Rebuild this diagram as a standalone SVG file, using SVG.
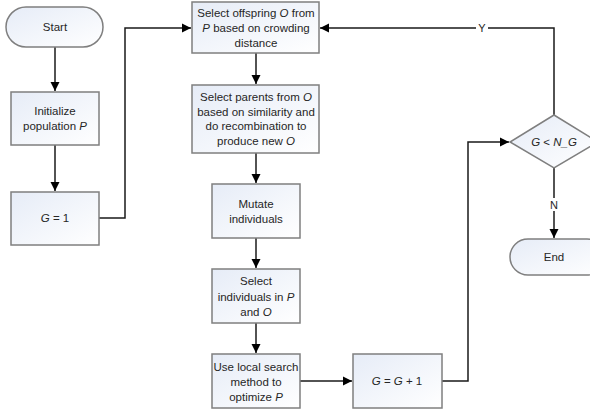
<svg xmlns="http://www.w3.org/2000/svg" width="590" height="411" viewBox="0 0 590 411">
<defs>
<linearGradient id="g" x1="0" y1="0" x2="1" y2="1">
<stop offset="0" stop-color="#e6ecf7"/>
<stop offset="1" stop-color="#ffffff"/>
</linearGradient>
<marker id="ah" markerWidth="10" markerHeight="10" refX="9" refY="5" orient="auto" markerUnits="userSpaceOnUse">
<path d="M0,0.5 L9,5 L0,9.5 Z" fill="#000"/>
</marker>
</defs>
<style>
.n{fill:url(#g);stroke:#7f7f7f;stroke-width:1.5}
.t{font-family:"Liberation Sans",Arial,sans-serif;font-size:11.5px;fill:#262626;text-anchor:middle}
.i{font-style:italic}
.c{fill:none;stroke:#1a1a1a;stroke-width:1.5}
.a{marker-end:url(#ah)}
.l{font-family:"Liberation Sans",Arial,sans-serif;font-size:11px;fill:#262626;text-anchor:middle}
</style>
<rect width="590" height="411" fill="#fff"/>
<g id="connectors">
<path class="c a" d="M55,47 V91"/>
<path class="c a" d="M55,145 V191"/>
<path class="c a" d="M99,218 H125 V28 H191"/>
<path class="c a" d="M256,53 V84"/>
<path class="c a" d="M256,153 V183"/>
<path class="c a" d="M256,238 V268"/>
<path class="c a" d="M256,323 V353"/>
<path class="c a" d="M300,381 H352"/>
<path class="c a" d="M442,381 H468 V142 H509"/>
<path class="c a" d="M554,115 V28 H320"/>
<path class="c a" d="M554,168 V238"/>
<rect x="476" y="21" width="12" height="13" fill="#fff"/>
<text class="l" x="482" y="31.5">Y</text>
<rect x="549" y="198" width="11" height="13" fill="#fff"/>
<text class="l" x="554" y="208.5">N</text>
</g>
<g id="start">
<rect class="n" x="6" y="7" width="97" height="40" rx="20" ry="20"/>
<text class="t" x="55" y="31">Start</text>
</g>
<g id="init">
<rect class="n" x="11" y="92" width="88" height="53"/>
<text class="t" x="55" y="115">Initialize</text>
<text class="t" x="55" y="130">population <tspan class="i">P</tspan></text>
</g>
<g id="g1">
<rect class="n" x="11" y="192" width="88" height="53"/>
<text class="t" x="55" y="222"><tspan class="i">G</tspan> = 1</text>
</g>
<g id="offspring">
<rect class="n" x="192" y="2" width="127" height="51"/>
<text class="t" x="256" y="17">Select offspring <tspan class="i">O</tspan> from</text>
<text class="t" x="256" y="32"><tspan class="i">P</tspan> based on crowding</text>
<text class="t" x="256" y="47">distance</text>
</g>
<g id="parents">
<rect class="n" x="192" y="85" width="127" height="68"/>
<text class="t" x="256" y="101">Select parents from <tspan class="i">O</tspan></text>
<text class="t" x="256" y="115.5">based on similarity and</text>
<text class="t" x="256" y="130">do recombination to</text>
<text class="t" x="256" y="145">produce new <tspan class="i">O</tspan></text>
</g>
<g id="mutate">
<rect class="n" x="212" y="184" width="88" height="54"/>
<text class="t" x="256" y="208">Mutate</text>
<text class="t" x="256" y="223">individuals</text>
</g>
<g id="selectind">
<rect class="n" x="212" y="269" width="88" height="54"/>
<text class="t" x="256" y="285">Select</text>
<text class="t" x="256" y="300.5">individuals in <tspan class="i">P</tspan></text>
<text class="t" x="256" y="316">and <tspan class="i">O</tspan></text>
</g>
<g id="local">
<rect class="n" x="212" y="354" width="88" height="54"/>
<text class="t" x="256" y="370.5">Use local search</text>
<text class="t" x="256" y="386">method to</text>
<text class="t" x="256" y="401">optimize <tspan class="i">P</tspan></text>
</g>
<g id="ginc">
<rect class="n" x="353" y="354" width="89" height="54"/>
<text class="t" x="397" y="385"><tspan class="i">G</tspan> = <tspan class="i">G</tspan> + 1</text>
</g>
<g id="cond">
<path class="n" d="M554,115 L598,142 L554,168 L510,142 Z"/>
<text class="t" x="554" y="146"><tspan class="i">G</tspan> &lt; <tspan class="i">N_G</tspan></text>
</g>
<g id="end">
<rect class="n" x="510" y="239" width="95" height="36" rx="18" ry="18"/>
<text class="t" x="554" y="261">End</text>
</g>
</svg>
